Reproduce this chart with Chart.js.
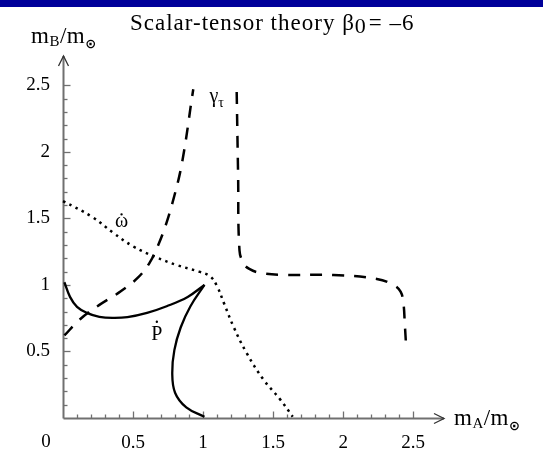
<!DOCTYPE html>
<html>
<head>
<meta charset="utf-8">
<script src="https://cdn.jsdelivr.net/npm/chart.js@4.4.1/dist/chart.umd.min.js"></script>
<style>
  html, body { margin: 0; padding: 0; background: #fff; }
  #wrap { width: 543px; height: 451px; }
</style>
</head>
<body>
<div id="wrap"><canvas id="chart" width="543" height="451"></canvas></div>
<script>
// Pdot curve, two branches meeting at the cusp near (1, 1)
const pdotUpperX = [0.01, 0.05, 0.10, 0.17, 0.26, 0.36, 0.46, 0.60, 0.74, 0.89, 1.01];
const pdotUpperY = [1.02, 0.91, 0.835, 0.79, 0.76, 0.752, 0.758, 0.79, 0.84, 0.91, 1.00];
const pdotLowerX = [1.01, 0.91, 0.84, 0.795, 0.78, 0.80, 0.88, 1.01];
const pdotLowerY = [1.00, 0.84, 0.68, 0.51, 0.34, 0.19, 0.08, 0.01];

// omega-dot curve (dotted)
const omegaX = [0.00, 0.21, 0.36, 0.50, 0.66, 0.81, 0.97, 1.05, 1.10, 1.15, 1.22, 1.31, 1.43, 1.55, 1.64];
const omegaY = [1.63, 1.51, 1.39, 1.29, 1.21, 1.15, 1.10, 1.065, 0.99, 0.86, 0.68, 0.49, 0.29, 0.14, 0.01];

// gamma_tau curve (dashed), left and right branches
const gammaLeftX = [0.01, 0.12, 0.26, 0.41, 0.54, 0.62, 0.68, 0.74, 0.795, 0.835, 0.865, 0.89, 0.91, 0.93];
const gammaLeftY = [0.62, 0.74, 0.85, 0.95, 1.06, 1.17, 1.30, 1.47, 1.67, 1.84, 2.01, 2.18, 2.33, 2.47];
const gammaRightX = [1.24, 1.25, 1.26, 1.29, 1.33, 1.41, 1.57, 1.93, 2.24, 2.36, 2.41, 2.43, 2.44, 2.45];
const gammaRightY = [2.45, 1.83, 1.26, 1.16, 1.12, 1.09, 1.075, 1.075, 1.045, 1.00, 0.95, 0.865, 0.71, 0.53];

// axis range and tick step
const axisMax = 2.72;
const tickStep = 0.1;
const lastTick = 2.5;

const SERIF = "'Liberation Serif', 'Times New Roman', serif";
const MATH = "'DejaVu Sans', sans-serif";

function pts(xs, ys) {
  return xs.map((x, i) => ({ x: x, y: ys[i] }));
}
const isHalf = (v) => Math.abs(v * 2 - Math.round(v * 2)) < 1e-6;
const isStep = (v) => Math.abs(v * 10 - Math.round(v * 10)) < 1e-6;
const fmt = (v) => String(Math.round(v * 10) / 10);

function line(ctx, x1, y1, x2, y2) {
  ctx.beginPath();
  ctx.moveTo(x1, y1);
  ctx.lineTo(x2, y2);
  ctx.stroke();
}

// writes text pieces one after another, each with its own font and baseline shift
function runs(ctx, x, y, parts, spacing) {
  ctx.textAlign = 'left';
  ctx.textBaseline = 'alphabetic';
  ctx.letterSpacing = (spacing || 0) + 'px';
  parts.forEach((p) => {
    ctx.font = p.font;
    ctx.fillText(p.t, x, y + (p.dy || 0));
    x += ctx.measureText(p.t).width + (p.gap || 0);
  });
  ctx.letterSpacing = '0px';
}

const decor = {
  id: 'decor',
  beforeDraw(chart) {
    const ctx = chart.ctx;
    ctx.save();
    ctx.fillStyle = '#ffffff';
    ctx.fillRect(0, 0, chart.width, chart.height);
    ctx.fillStyle = '#00009a';
    ctx.fillRect(0, 0, chart.width, 7);
    ctx.restore();
  },
  beforeDatasetsDraw(chart) {
    const ctx = chart.ctx;
    const xs = chart.scales.x, ys = chart.scales.y;
    const x0 = Math.round(xs.getPixelForValue(0)) + 0.5;
    const y0 = Math.round(ys.getPixelForValue(0)) + 0.5;
    const xEnd = xs.getPixelForValue(axisMax);
    const yEnd = ys.getPixelForValue(axisMax);
    ctx.save();
    ctx.strokeStyle = '#707070';
    ctx.lineWidth = 2;
    line(ctx, x0, y0, xEnd, y0);
    line(ctx, x0, y0, x0, yEnd);

    // inward tick marks, longer on the labelled ones
    ctx.lineWidth = 1.3;
    xs.ticks.forEach((t) => {
      if (t.value <= 0 || t.value > lastTick + 1e-6 || !isStep(t.value)) return;
      const px = Math.round(xs.getPixelForValue(t.value)) + 0.5;
      line(ctx, px, y0, px, y0 - (isHalf(t.value) ? 7 : 4));
    });
    ys.ticks.forEach((t) => {
      if (t.value <= 0 || t.value > lastTick + 1e-6 || !isStep(t.value)) return;
      const py = Math.round(ys.getPixelForValue(t.value)) + 0.5;
      line(ctx, x0, py, x0 + (isHalf(t.value) ? 7 : 4), py);
    });

    // open arrow heads
    ctx.strokeStyle = '#333';
    ctx.lineWidth = 1.3;
    ctx.beginPath();
    ctx.moveTo(xEnd - 10, y0 - 5);
    ctx.lineTo(xEnd, y0);
    ctx.lineTo(xEnd - 10, y0 + 5);
    ctx.stroke();
    ctx.beginPath();
    ctx.moveTo(x0 - 5, yEnd + 10);
    ctx.lineTo(x0, yEnd);
    ctx.lineTo(x0 + 5, yEnd + 10);
    ctx.stroke();
    ctx.restore();
  },
  afterDraw(chart) {
    const ctx = chart.ctx;
    const xs = chart.scales.x, ys = chart.scales.y;
    const X = (v) => xs.getPixelForValue(v);
    const Y = (v) => ys.getPixelForValue(v);
    ctx.save();
    ctx.fillStyle = '#000';

    // title
    runs(ctx, 130, 30, [
      { t: 'Scalar-tensor theory ', font: '23px ' + SERIF },
      { t: 'β', font: '23px ' + SERIF },
      { t: '0', font: '22px ' + SERIF, dy: 3, gap: 2 },
      { t: '= –6', font: '23px ' + SERIF }
    ], 1);

    // axis titles
    const axisTitle = (sub) => [
      { t: 'm', font: '23px ' + SERIF },
      { t: sub, font: '15px ' + SERIF, dy: 3 },
      { t: '/m', font: '23px ' + SERIF },
      { t: '⊙', font: 'bold 13px ' + MATH, dy: 5 }
    ];
    runs(ctx, 31, 43, axisTitle('B'), 0.5);
    runs(ctx, X(axisMax) + 10, Y(0) + 7, axisTitle('A'), 0.5);

    // origin label
    ctx.font = '19px ' + SERIF;
    ctx.textAlign = 'center';
    ctx.textBaseline = 'alphabetic';
    ctx.fillText('0', X(0) - 17, Y(0) + 29);

    // curve labels
    ctx.font = '20px ' + SERIF;
    ctx.fillText('ω', X(0.418), Y(1.47) + 5);
    ctx.fillText('P', X(0.67), Y(0.64) + 7);
    ctx.beginPath();
    ctx.arc(X(0.418), Y(1.47) - 8, 1.2, 0, Math.PI * 2);
    ctx.arc(X(0.67), Y(0.64) - 11, 1.2, 0, Math.PI * 2);
    ctx.fill();
    runs(ctx, X(1.045), Y(2.4) + 3, [
      { t: 'γ', font: '20px ' + SERIF },
      { t: 'τ', font: '14px ' + SERIF, dy: 5 }
    ]);
    ctx.restore();
  }
};

const lineStyle = {
  showLine: true,
  pointRadius: 0,
  borderColor: '#000',
  borderWidth: 2.3,
  tension: 0.4,
  fill: false,
  clip: false
};

new Chart(document.getElementById('chart'), {
  type: 'scatter',
  data: {
    datasets: [
      Object.assign({ label: 'Pdot', data: pts(pdotUpperX, pdotUpperY) }, lineStyle),
      Object.assign({ label: 'Pdot', data: pts(pdotLowerX, pdotLowerY) }, lineStyle),
      Object.assign({ label: 'omega-dot', data: pts(omegaX, omegaY) }, lineStyle,
        { borderDash: [2.5, 4.5], borderCapStyle: 'butt', borderWidth: 2.5 }),
      Object.assign({ label: 'gamma', data: pts(gammaLeftX, gammaLeftY) }, lineStyle,
        { borderDash: [12, 10], borderCapStyle: 'butt', borderWidth: 2.5 }),
      Object.assign({ label: 'gamma', data: pts(gammaRightX, gammaRightY) }, lineStyle,
        { borderDash: [12, 10], borderCapStyle: 'butt', borderWidth: 2.5 })
    ]
  },
  options: {
    responsive: false,
    devicePixelRatio: 1,
    animation: false,
    layout: { padding: { left: 0, right: 99, top: 56, bottom: 0 } },
    plugins: {
      legend: { display: false },
      tooltip: { enabled: false }
    },
    scales: {
      x: {
        type: 'linear',
        min: 0,
        max: axisMax,
        grid: { display: false },
        border: { display: false },
        afterFit(s) { s.height = 33; },
        ticks: {
          stepSize: tickStep,
          autoSkip: false,
          maxRotation: 0,
          padding: 6,
          color: '#000',
          font: { family: SERIF, size: 19 },
          callback: (v) => (v > 0 && v <= lastTick + 1e-6 && isHalf(v) ? fmt(v) : '')
        }
      },
      y: {
        type: 'linear',
        min: 0,
        max: axisMax,
        grid: { display: false },
        border: { display: false },
        afterFit(s) { s.width = 63; },
        ticks: {
          stepSize: tickStep,
          autoSkip: false,
          padding: 5,
          color: '#000',
          font: { family: SERIF, size: 19 },
          callback: (v) => (v > 0 && v <= lastTick + 1e-6 && isHalf(v) ? fmt(v) : '')
        }
      }
    }
  },
  plugins: [decor]
});
</script>
</body>
</html>
